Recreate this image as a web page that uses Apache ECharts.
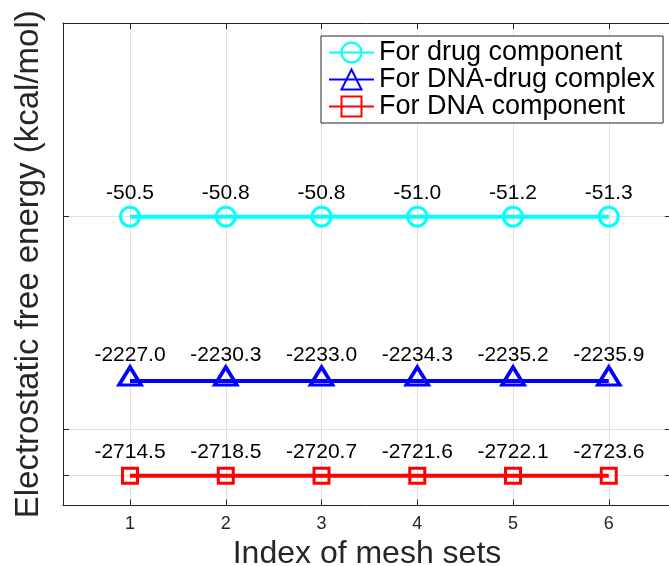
<!DOCTYPE html>
<html>
<head>
<meta charset="utf-8">
<script src="https://cdn.jsdelivr.net/npm/echarts@6/dist/echarts.min.js"></script>
<style>
  html, body { margin: 0; padding: 0; background: #ffffff; }
  #chart { width: 669px; height: 566px; }
</style>
</head>
<body>
<div id="chart"></div>
<script>
// ---- data ----
const meshIndex = [1, 2, 3, 4, 5, 6];
const drugComponent = [-50.5, -50.8, -50.8, -51.0, -51.2, -51.3];
const dnaDrugComplex = [-2227.0, -2230.3, -2233.0, -2234.3, -2235.2, -2235.9];
const dnaComponent = [-2714.5, -2718.5, -2720.7, -2721.6, -2722.1, -2723.6];
const xTickLabels = [1, 2, 3, 4, 5, 6];
const seriesNames = ['For drug component', 'For DNA-drug complex', 'For DNA component'];

// ---- layout (broken-style y axis: each series drawn on its own scale band) ----
const yTickFractions = [0.0618, 0.1575, 0.5986];
const levelFraction = [0.5986, 0.258, 0.0618];
const bandSpan = 100000;
const FONT = '"Liberation Sans", Arial, Helvetica, sans-serif';
const AXIS_COLOR = '#262626';
const GRID_COLOR = '#e0e0e0';

function mean(a) { return a.reduce((s, v) => s + v, 0) / a.length; }
function bandAxis(values, frac) {
  const m = mean(values);
  const min = m - frac * bandSpan;
  return { type: 'value', show: false, min: min, max: min + bandSpan, gridIndex: 0 };
}
function pairs(ys) { return meshIndex.map((x, i) => [x, ys[i]]); }
const fmt = p => p.value[1].toFixed(1);
const labelBase = { show: true, position: 'inside', color: '#000', fontSize: 21, fontFamily: FONT };

const chart = echarts.init(document.getElementById('chart'), null, { renderer: 'canvas' });
chart.setOption({
  animation: false,
  backgroundColor: '#ffffff',
  grid: { left: 63, top: 23, right: -2, bottom: 60.5, containLabel: false, outerBoundsMode: 'none' },
  legend: {
    orient: 'vertical',
    left: 321, top: 36,
    padding: [3, 8, 3, 7],
    backgroundColor: '#ffffff',
    borderColor: AXIS_COLOR, borderWidth: 1, borderRadius: 0,
    itemWidth: 45, itemHeight: 25, itemGap: 0,
    textStyle: { fontSize: 27, lineHeight: 27, color: '#000', fontFamily: FONT },
    data: seriesNames
  },
  xAxis: [
    {
      type: 'value', position: 'bottom', min: 0.3, max: 6.65,
      axisLine: { show: true, onZero: false, lineStyle: { color: AXIS_COLOR, width: 1 } },
      axisTick: { show: true, inside: true, length: 6, customValues: xTickLabels, lineStyle: { color: AXIS_COLOR } },
      axisLabel: { show: true, customValues: xTickLabels, fontSize: 18, color: AXIS_COLOR, margin: 10, fontFamily: FONT },
      splitLine: { show: true, lineStyle: { color: GRID_COLOR, width: 1 } },
      name: 'Index of mesh sets', nameLocation: 'middle', nameGap: 31,
      nameTextStyle: { fontSize: 32, color: AXIS_COLOR, fontFamily: FONT }
    },
    {
      type: 'value', position: 'top', min: 0.3, max: 6.65,
      axisLine: { show: true, onZero: false, lineStyle: { color: AXIS_COLOR, width: 1 } },
      axisTick: { show: true, inside: true, length: 6, customValues: xTickLabels, lineStyle: { color: AXIS_COLOR } },
      axisLabel: { show: false },
      splitLine: { show: false }
    }
  ],
  yAxis: [
    {
      type: 'value', position: 'left', min: 0, max: 1,
      axisLine: { show: true, onZero: false, lineStyle: { color: AXIS_COLOR, width: 1 } },
      axisTick: { show: true, inside: true, length: 6, customValues: yTickFractions, lineStyle: { color: AXIS_COLOR } },
      axisLabel: { show: false, customValues: yTickFractions },
      splitLine: { show: true, lineStyle: { color: GRID_COLOR, width: 1 } },
      name: 'Electrostatic free energy (kcal/mol)', nameLocation: 'middle', nameGap: 18,
      nameTextStyle: { fontSize: 33, color: AXIS_COLOR, fontFamily: FONT }
    },
    {
      type: 'value', position: 'right', min: 0, max: 1,
      axisLine: { show: true, onZero: false, lineStyle: { color: AXIS_COLOR, width: 1 } },
      axisTick: { show: true, inside: true, length: 6, customValues: yTickFractions, lineStyle: { color: AXIS_COLOR } },
      axisLabel: { show: false, customValues: yTickFractions },
      splitLine: { show: false }
    },
    bandAxis(drugComponent, levelFraction[0]),
    bandAxis(dnaDrugComplex, levelFraction[1]),
    bandAxis(dnaComponent, levelFraction[2])
  ],
  series: [
    {
      name: seriesNames[0], type: 'line', xAxisIndex: 0, yAxisIndex: 2,
      data: pairs(drugComponent),
      symbol: 'circle', symbolSize: 19, showAllSymbol: true,
      lineStyle: { color: '#00ffff', width: 4 },
      itemStyle: { color: 'rgba(255,255,255,0)', borderColor: '#00ffff', borderWidth: 3 },
      label: Object.assign({}, labelBase, { formatter: fmt, offset: [0, -23.4] }),
      emphasis: { disabled: true }, z: 3
    },
    {
      name: seriesNames[1], type: 'line', xAxisIndex: 0, yAxisIndex: 3,
      data: pairs(dnaDrugComplex),
      symbol: 'triangle', symbolSize: [22, 18], symbolOffset: [0, -5], showAllSymbol: true,
      lineStyle: { color: '#0000ff', width: 4 },
      itemStyle: { color: 'rgba(255,255,255,0)', borderColor: '#0000ff', borderWidth: 3.5 },
      label: Object.assign({}, labelBase, { formatter: fmt, offset: [0, -20.7] }),
      emphasis: { disabled: true }, z: 3
    },
    {
      name: seriesNames[2], type: 'line', xAxisIndex: 0, yAxisIndex: 4,
      data: pairs(dnaComponent),
      symbol: 'rect', symbolSize: 15, showAllSymbol: true,
      lineStyle: { color: '#ff0000', width: 4 },
      itemStyle: { color: 'rgba(255,255,255,0)', borderColor: '#ff0000', borderWidth: 3 },
      label: Object.assign({}, labelBase, { formatter: fmt, offset: [0, -23.5] }),
      emphasis: { disabled: true }, z: 3
    }
  ]
});
</script>
</body>
</html>
